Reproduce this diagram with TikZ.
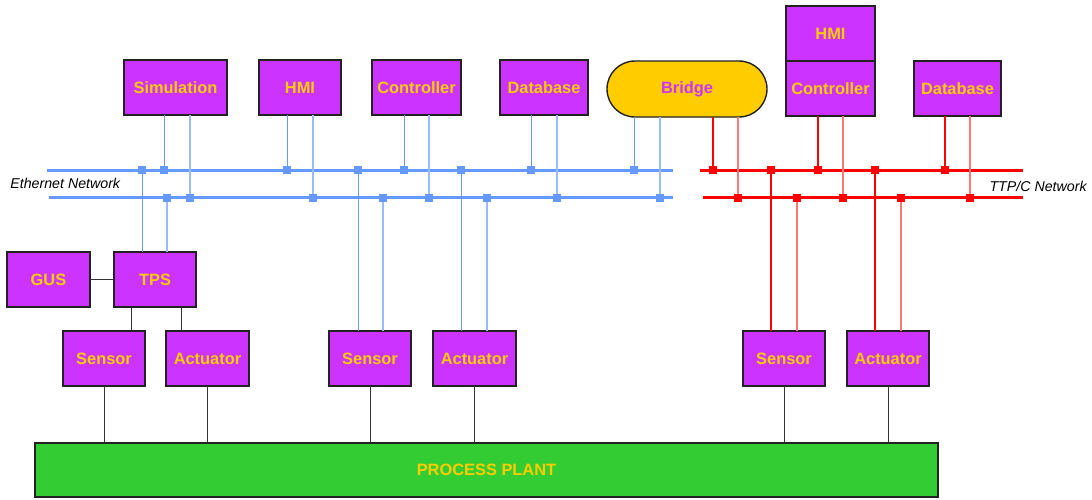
\documentclass[tikz,border=0pt]{standalone}
\usepackage{fontspec}
\setmainfont{Liberation Sans}
\usetikzlibrary{positioning}
\usetikzlibrary{shapes.misc}
\definecolor{unitfill}{HTML}{CC33FF}
\definecolor{unittext}{HTML}{FFCC00}
\definecolor{plantfill}{HTML}{33CC33}
\definecolor{ethblue}{HTML}{6699FF}
\definecolor{ethpale}{HTML}{99BBFF}
\definecolor{ttpred}{HTML}{FF0000}
\definecolor{ttppale}{HTML}{FF7777}
\definecolor{edge}{HTML}{222222}
\tikzset{
	unit/.style={draw=edge, line width=0.7pt, fill=unitfill, text=unittext, minimum height=27.5pt, inner sep=0pt, outer sep=0pt, font=\fontsize{8.2}{10}\selectfont\bfseries},
	bridgebox/.style={unit, rounded rectangle, fill=unittext, text=unitfill},
	plantbox/.style={unit, fill=plantfill},
	ethbus/.style={draw=ethblue, line width=1.5pt},
	ethpin/.style={draw=ethblue, line width=0.45pt},
	ethpin2/.style={draw=ethpale, line width=0.6pt},
	ethtap/.style={fill=ethblue, rectangle, minimum size=4pt, inner sep=0pt},
	ttpbus/.style={draw=ttpred, line width=1.5pt},
	ttppin/.style={draw=ttpred, line width=0.6pt},
	ttppin2/.style={draw=ttppale, line width=0.6pt},
	ttptap/.style={fill=ttpred, rectangle, minimum size=4pt, inner sep=0pt},
	link/.style={draw=black!80, line width=0.5pt},
	netlabel/.style={font=\fontsize{7.1}{9}\selectfont\itshape, inner sep=0pt},
}

\begin{document}
\begin{tikzpicture}[x=0.5pt, y=-0.5pt]
			\useasboundingbox (0,0) rectangle (1092,499);
			
			% upper units...................
			\node [unit, minimum width=51.5pt] (sim) at (175.5,87.5) {Simulation};
			\node [unit, minimum width=41pt] (hmi) at (300,87.5) {HMI};
			\node [unit, minimum width=44.5pt] (ctrl) at (416.5,87.5) {Controller};
			\node [unit, minimum width=44pt] (db) at (544,87.5) {Database};
			\node [bridgebox, minimum width=80pt, minimum height=28pt] (bridge) at (687,89) {Bridge};
			\node [unit, minimum width=44.5pt] (ctrlb) at (830.5,88.5) {Controller};
			\node [unit, minimum width=44.5pt] (hmib) at (830.5,33.5) {HMI};
			\node [unit, minimum width=43.5pt] (dbb) at (957.5,88.5) {Database};
			
			% lower units...................
			\node [unit, minimum width=41.5pt] (gus) at (48.5,279.5) {GUS};
			\node [unit, minimum width=41pt] (tps) at (155,279.5) {TPS};
			\node [unit, minimum width=41pt] (sena) at (104,358.5) {Sensor};
			\node [unit, minimum width=41.5pt] (acta) at (207.5,358.5) {Actuator};
			\node [unit, minimum width=41pt] (senb) at (370,358.5) {Sensor};
			\node [unit, minimum width=41.5pt] (actb) at (474.5,358.5) {Actuator};
			\node [unit, minimum width=41pt] (senc) at (784,358.5) {Sensor};
			\node [unit, minimum width=41pt] (actc) at (888,358.5) {Actuator};
			
			% plant.........................
			\node [plantbox, minimum width=451.5pt, minimum height=27pt] (plant) at (486.5,470) {PROCESS PLANT};
			
			% ethernet network..............
			\coordinate (etha) at (47,170);
			\coordinate (ethae) at (673,170);
			\coordinate (ethb) at (49,197.5);
			\coordinate (ethbe) at (673,197.5);
			\draw [ethbus] (etha) -- (ethae);
			\draw [ethbus] (ethb) -- (ethbe);
			\node [netlabel, anchor=west] (ethlabel) at (10,183) {Ethernet Network};
			
			% TTP/C network.................
			\coordinate (ttpa) at (700,170);
			\coordinate (ttpae) at (1023,170);
			\coordinate (ttpb) at (703,197.5);
			\coordinate (ttpbe) at (1023,197.5);
			\draw [ttpbus] (ttpa) -- (ttpae);
			\draw [ttpbus] (ttpb) -- (ttpbe);
			\node [netlabel, anchor=east] (ttplabel) at (1087,186) {TTP/C Network};
			
			% ethernet taps from above......
			\foreach \n/\x in {sim/164,hmi/287,ctrl/404,db/531,bridge/634}
				\draw [ethpin] (\n.south -| \x,0) -- (etha -| \x,0) node [ethtap] {};
			\foreach \n/\x in {sim/190,hmi/313,ctrl/429,db/557,bridge/660}
				\draw [ethpin2] (\n.south -| \x,0) -- (ethb -| \x,0) node [ethtap] {};
			
			% ethernet taps from below......
			\foreach \n/\x in {tps/142,senb/358,actb/461}
				\draw [ethpin] (\n.north -| \x,0) -- (etha -| \x,0) node [ethtap] {};
			\foreach \n/\x in {tps/167,senb/383,actb/487}
				\draw [ethpin2] (\n.north -| \x,0) -- (ethb -| \x,0) node [ethtap] {};
			
			% TTP/C taps....................
			\foreach \n/\x in {bridge/713,ctrlb/818,dbb/945}
				\draw [ttppin] (\n.south -| \x,0) -- (ttpa -| \x,0) node [ttptap] {};
			\foreach \n/\x in {bridge/738,ctrlb/843,dbb/970}
				\draw [ttppin2] (\n.south -| \x,0) -- (ttpb -| \x,0) node [ttptap] {};
			\foreach \n/\x in {senc/771,actc/875}
				\draw [ttppin] (\n.north -| \x,0) -- (ttpa -| \x,0) node [ttptap] {};
			\foreach \n/\x in {senc/797,actc/901}
				\draw [ttppin2] (\n.north -| \x,0) -- (ttpb -| \x,0) node [ttptap] {};
			
			% local links...................
			\draw [link] (gus) -- (tps);
			\draw [link] (tps.south -| 131,0) -- (sena.north -| 131,0);
			\draw [link] (tps.south -| 181,0) -- (acta.north -| 181,0);
			\foreach \n in {sena,acta,senb,actb,senc,actc}
				\draw [link] (\n) -- (\n |- plant.north);
		\end{tikzpicture}
\end{document}
